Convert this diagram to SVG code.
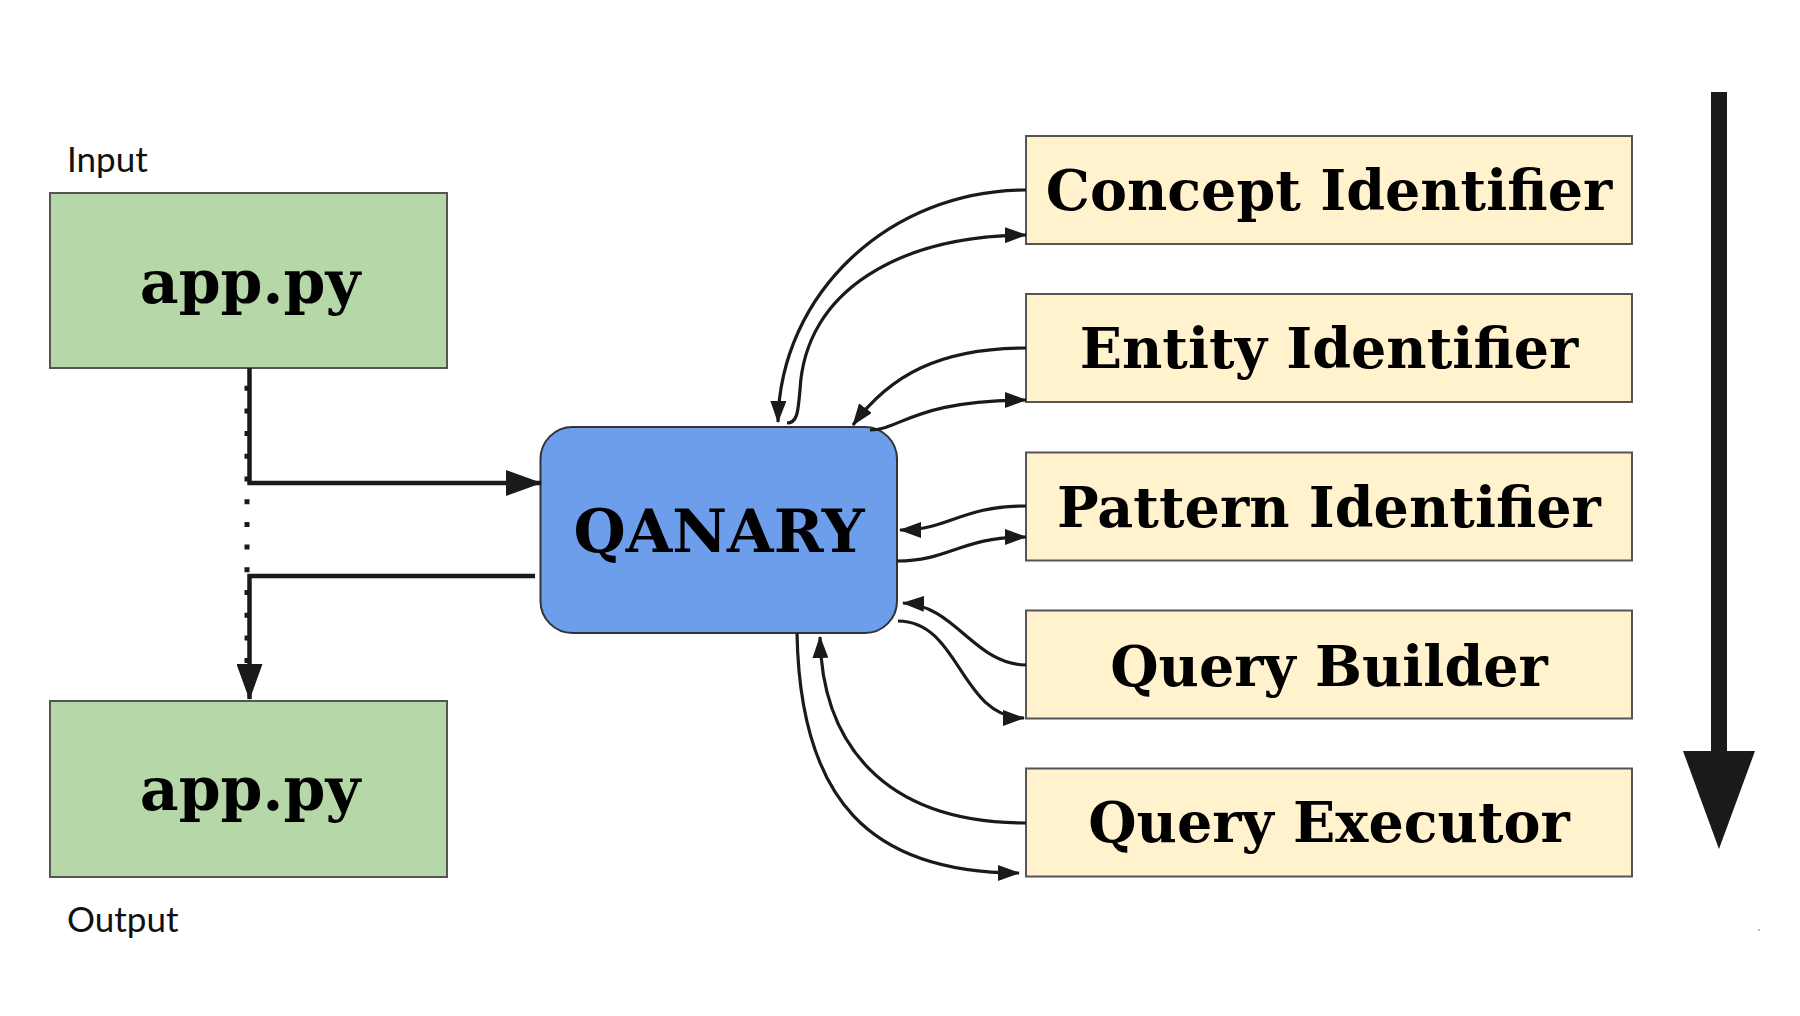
<svg xmlns="http://www.w3.org/2000/svg" width="1800" height="1016" viewBox="0 0 1800 1016">
<style>
.app{fill:#b6d7a8;stroke:#555;stroke-width:2}
.mod{fill:#fff2cc;stroke:#555;stroke-width:2}
.qa{fill:#6d9eeb;stroke:#333;stroke-width:2}
.t{font-family:"DejaVu Serif",serif;font-weight:bold;fill:#000;text-anchor:middle}
.lbl{font-family:Lato,"Liberation Sans",sans-serif;font-size:35px;fill:#111}
.c{fill:none;stroke:#1a1a1a;stroke-width:3.2;marker-end:url(#ah)}
.thick{fill:none;stroke:#1a1a1a;stroke-width:4.5}
</style>
<defs>
<marker id="ah" markerUnits="userSpaceOnUse" viewBox="0 0 22 16" refX="21" refY="8" markerWidth="22" markerHeight="16" orient="auto"><path d="M0,0 L22,8 L0,16 z" fill="#1a1a1a"/></marker>
<marker id="bh" markerUnits="userSpaceOnUse" viewBox="0 0 36 26" refX="35" refY="13" markerWidth="36" markerHeight="26" orient="auto"><path d="M0,0 L36,13 L0,26 z" fill="#1a1a1a"/></marker>
</defs>
<rect width="1800" height="1016" fill="#fff"/>
<text class="lbl" x="67" y="172">Input</text>
<text class="lbl" x="67" y="932">Output</text>
<g id="app_in"><rect class="app" x="50" y="193" width="397" height="175"/><text class="t" x="250" y="303" font-size="60">app.py</text></g>
<g id="app_out"><rect class="app" x="50" y="701" width="397" height="176"/><text class="t" x="250" y="810" font-size="60">app.py</text></g>
<g id="qanary"><rect class="qa" x="540.5" y="427" width="356.5" height="206" rx="32"/><text class="t" x="719" y="552" font-size="60">QANARY</text></g>
<g id="concept"><rect class="mod" x="1026" y="136" width="606" height="108"/><text class="t" x="1329" y="210" font-size="55.5">Concept Identifier</text></g>
<g id="entity"><rect class="mod" x="1026" y="294" width="606" height="108"/><text class="t" x="1329" y="368" font-size="55.5">Entity Identifier</text></g>
<g id="pattern"><rect class="mod" x="1026" y="452.5" width="606" height="108"/><text class="t" x="1329" y="527" font-size="55.5">Pattern Identifier</text></g>
<g id="builder"><rect class="mod" x="1026" y="610.5" width="606" height="108"/><text class="t" x="1329" y="686" font-size="55.5">Query Builder</text></g>
<g id="executor"><rect class="mod" x="1026" y="768.5" width="606" height="108"/><text class="t" x="1329" y="842" font-size="55.5">Query Executor</text></g>
<g id="connectors">
<path d="M247,385.7 V700" fill="none" stroke="#1a1a1a" stroke-width="5" stroke-dasharray="5 17.7"/>
<path class="thick" d="M249.5,368 V483 H541" marker-end="url(#bh)"/>
<path class="thick" d="M535,576 H249.5 V699" marker-end="url(#bh)"/>
<path class="c" d="M1026,190 C889,190 780,294 778,422"/>
<path class="c" d="M787,423 C798,423 798,410 800,390 C805,290 900,236 1026,235"/>
<path class="c" d="M1026,348 C940,348 890,375 853,425"/>
<path class="c" d="M870,430 C900,430 915,400 1026,400"/>
<path class="c" d="M1026,506 C960,506 950,530 900,530"/>
<path class="c" d="M897,561 C950,561 960,537 1026,537"/>
<path class="c" d="M1026,665 C975,665 955,605 903,603"/>
<path class="c" d="M898,621 C960,621 960,718 1024,718"/>
<path class="c" d="M1026,823 C880,823 822,740 820,637"/>
<path class="c" d="M797,633 C800,800 870,873 1019,873"/>
<path d="M1719,92 V752" stroke="#1a1a1a" stroke-width="16" fill="none"/>
<path d="M1683,751 L1755,751 L1719,849 z" fill="#1a1a1a"/>
</g>
<circle cx="1759" cy="930" r="1" fill="#aaa"/>
</svg>
